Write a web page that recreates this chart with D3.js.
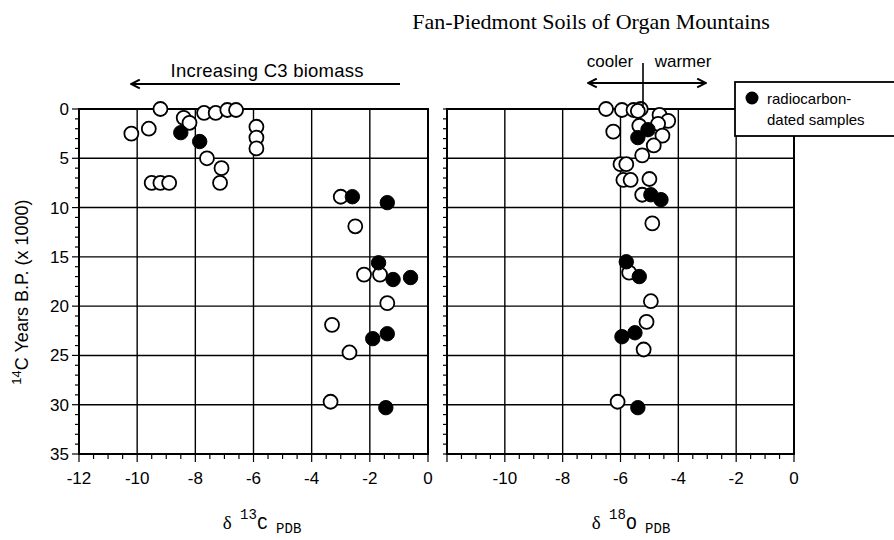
<!DOCTYPE html>
<html>
<head>
<meta charset="utf-8">
<script src="https://cdn.jsdelivr.net/npm/d3@7"></script>
<style>
  body { margin: 0; background: #fff; }
  svg { display: block; }
  .tick-lbl { font-family: "Liberation Sans", Arial, sans-serif; font-size: 17px; fill: #000; }
  .sans { font-family: "Liberation Sans", Arial, sans-serif; }
</style>
</head>
<body>
<div id="chart"></div>
<script>
// data: [delta value, age (ka)]
const c13Open = [
  [-9.2, 0.0], [-10.2, 2.5], [-9.6, 2.0], [-8.4, 0.9], [-8.2, 1.4],
  [-7.7, 0.4], [-7.3, 0.4], [-6.9, 0.1], [-6.6, 0.1],
  [-5.9, 1.8], [-5.9, 2.9], [-5.9, 4.0],
  [-7.6, 5.0], [-7.1, 6.0], [-7.15, 7.5],
  [-9.5, 7.5], [-9.2, 7.5], [-8.9, 7.5],
  [-3.0, 8.9], [-2.5, 11.9], [-2.2, 16.8], [-1.65, 16.8],
  [-1.4, 19.7], [-3.3, 21.9], [-2.7, 24.7], [-3.35, 29.7]
];
const c13Dated = [
  [-8.5, 2.4], [-7.85, 3.3], [-2.6, 8.9], [-1.4, 9.5],
  [-1.7, 15.6], [-1.2, 17.3], [-0.6, 17.1],
  [-1.9, 23.3], [-1.4, 22.8], [-1.45, 30.3]
];
const o18Open = [
  [-6.5, 0.0], [-5.95, 0.1], [-5.55, 0.1], [-5.3, 0.0], [-5.4, 0.2],
  [-4.65, 0.6], [-4.35, 1.2], [-4.7, 1.5], [-5.35, 1.7], [-6.25, 2.3],
  [-4.55, 2.7], [-4.85, 3.7], [-5.25, 4.7],
  [-6.0, 5.6], [-5.8, 5.6], [-5.9, 7.2], [-5.65, 7.2], [-5.0, 7.1],
  [-5.25, 8.7], [-4.9, 11.6], [-5.7, 16.6], [-4.95, 19.5],
  [-5.1, 21.6], [-5.2, 24.4], [-6.1, 29.7]
];
const o18Dated = [
  [-5.05, 2.1], [-5.4, 2.9], [-4.95, 8.7], [-4.6, 9.2],
  [-5.8, 15.5], [-5.35, 17.0], [-5.5, 22.7], [-5.95, 23.1], [-5.4, 30.3]
];
const xTicks = [-12, -10, -8, -6, -4, -2, 0];
const yTicks = [0, 5, 10, 15, 20, 25, 30, 35];

const W = 894, H = 540;
const svg = d3.select("#chart").append("svg").attr("width", W).attr("height", H);

const y = d3.scaleLinear().domain([0, 35]).range([109, 454]);
const xC = d3.scaleLinear().domain([-12, 0]).range([79, 428]);
const xO = d3.scaleLinear().domain([-12, 0]).range([447, 794]);

svg.append("defs").append("marker")
  .attr("id", "arr").attr("viewBox", "0 0 10 10").attr("refX", 9).attr("refY", 5)
  .attr("markerWidth", 11).attr("markerHeight", 11).attr("orient", "auto-start-reverse")
  .attr("markerUnits", "userSpaceOnUse")
  .append("path").attr("d", "M1,1 L9,5 L1,9").attr("fill", "none")
  .attr("stroke", "#000").attr("stroke-width", 1.8);

function panel(x, labelLeft, showFirstX) {
  const g = svg.append("g");
  const [x0, x1] = x.range();
  const [y0, y1] = y.range();

  // grid
  xTicks.slice(1, -1).forEach(v => {
    g.append("line").attr("x1", x(v)).attr("x2", x(v)).attr("y1", y0).attr("y2", y1)
      .attr("stroke", "#000").attr("stroke-width", 1.4);
  });
  yTicks.slice(1, -1).forEach(v => {
    g.append("line").attr("x1", x0).attr("x2", x1).attr("y1", y(v)).attr("y2", y(v))
      .attr("stroke", "#000").attr("stroke-width", 1.4);
  });

  // frame
  g.append("rect").attr("x", x0).attr("y", y0).attr("width", x1 - x0).attr("height", y1 - y0)
    .attr("fill", "none").attr("stroke", "#000").attr("stroke-width", 2);

  // y ticks (minor every 1, major every 5)
  d3.range(0, 36).forEach(v => {
    const major = v % 5 === 0;
    g.append("line").attr("x1", x0 - (major ? (labelLeft ? 7 : 4) : 4)).attr("x2", x0)
      .attr("y1", y(v)).attr("y2", y(v)).attr("stroke", "#000").attr("stroke-width", 1.2);
  });
  // x ticks (minor every 0.5)
  d3.range(-12, 0.01, 0.5).forEach(v => {
    const major = Math.abs(v % 2) < 1e-9;
    g.append("line").attr("x1", x(v)).attr("x2", x(v))
      .attr("y1", y1).attr("y2", y1 + (major ? 8 : 5)).attr("stroke", "#000").attr("stroke-width", 1.2);
  });

  if (labelLeft) {
    yTicks.forEach(v => {
      g.append("text").attr("class", "tick-lbl").attr("x", x0 - 10).attr("y", y(v) + 6)
        .attr("text-anchor", "end").text(v);
    });
  }
  xTicks.forEach((v, i) => {
    if (i === 0 && !showFirstX) return;
    g.append("text").attr("class", "tick-lbl").attr("x", x(v)).attr("y", y1 + 30)
      .attr("text-anchor", "middle").text(v === 0 ? "0" : "-" + Math.abs(v));
  });
  return g;
}

function dots(g, x, open, dated) {
  g.selectAll(null).data(open).enter().append("circle")
    .attr("cx", d => x(d[0])).attr("cy", d => y(d[1])).attr("r", 7)
    .attr("fill", "#fff").attr("stroke", "#000").attr("stroke-width", 1.8);
  g.selectAll(null).data(dated).enter().append("circle")
    .attr("cx", d => x(d[0])).attr("cy", d => y(d[1])).attr("r", 7.2)
    .attr("fill", "#000").attr("stroke", "#000").attr("stroke-width", 1);
}

const gC = panel(xC, true, true);
dots(gC, xC, c13Open, c13Dated);
const gO = panel(xO, false, false);
dots(gO, xO, o18Open, o18Dated);

// title
svg.append("text").attr("x", 591).attr("y", 29).attr("text-anchor", "middle")
  .style("font-family", "'Liberation Serif', 'Times New Roman', serif").style("font-size", "22px")
  .text("Fan-Piedmont Soils of Organ Mountains");

// C3 arrow
svg.append("line").attr("x1", 400).attr("x2", 131).attr("y1", 84).attr("y2", 84)
  .attr("stroke", "#000").attr("stroke-width", 1.8).attr("marker-end", "url(#arr)");
svg.append("text").attr("class", "sans").attr("x", 267).attr("y", 77).attr("text-anchor", "middle")
  .style("font-size", "18.5px").attr("textLength", 193).text("Increasing C3 biomass");

// cooler / warmer
svg.append("line").attr("x1", 643).attr("x2", 643).attr("y1", 63).attr("y2", 108)
  .attr("stroke", "#000").attr("stroke-width", 1.6);
svg.append("line").attr("x1", 588).attr("x2", 706).attr("y1", 83).attr("y2", 83)
  .attr("stroke", "#000").attr("stroke-width", 1.8)
  .attr("marker-start", "url(#arr)").attr("marker-end", "url(#arr)");
svg.append("text").attr("class", "sans").attr("x", 610).attr("y", 67).attr("text-anchor", "middle")
  .style("font-size", "17px").text("cooler");
svg.append("text").attr("class", "sans").attr("x", 683).attr("y", 67).attr("text-anchor", "middle")
  .style("font-size", "17px").text("warmer");

// legend
const lg = svg.append("g");
lg.append("rect").attr("x", 735).attr("y", 82).attr("width", 175).attr("height", 54)
  .attr("fill", "#fff").attr("stroke", "#000").attr("stroke-width", 1.8);
lg.append("circle").attr("cx", 752).attr("cy", 98).attr("r", 6.5).attr("fill", "#000");
lg.append("text").attr("class", "sans").attr("x", 767).attr("y", 104)
  .style("font-size", "15px").text("radiocarbon-");
lg.append("text").attr("class", "sans").attr("x", 767).attr("y", 125)
  .style("font-size", "15px").text("dated samples");

// y axis title
const yt = svg.append("text").attr("class", "sans")
  .attr("transform", `translate(28, 292) rotate(-90)`).attr("text-anchor", "middle")
  .style("font-size", "18px");
yt.append("tspan").attr("dy", -7).style("font-size", "13px").text("14");
yt.append("tspan").attr("dy", 7).text("C Years B.P. (x 1000)");

// x axis titles
function deltaLabel(cx, sup, el) {
  const t = svg.append("text").attr("x", cx).attr("y", 529).attr("text-anchor", "middle")
    .style("font-family", "'Liberation Mono', 'Courier New', monospace").style("font-size", "18px");
  t.append("tspan").style("font-family", "'Liberation Serif', serif").style("font-size", "19px").text("δ");
  t.append("tspan").attr("dy", -10).style("font-size", "14px").text(" " + sup);
  t.append("tspan").attr("dy", 10).text(el);
  t.append("tspan").attr("dy", 4).style("font-size", "14px").text(" PDB");
}
deltaLabel(262, "13", "C");
deltaLabel(631, "18", "O");
</script>
</body>
</html>
